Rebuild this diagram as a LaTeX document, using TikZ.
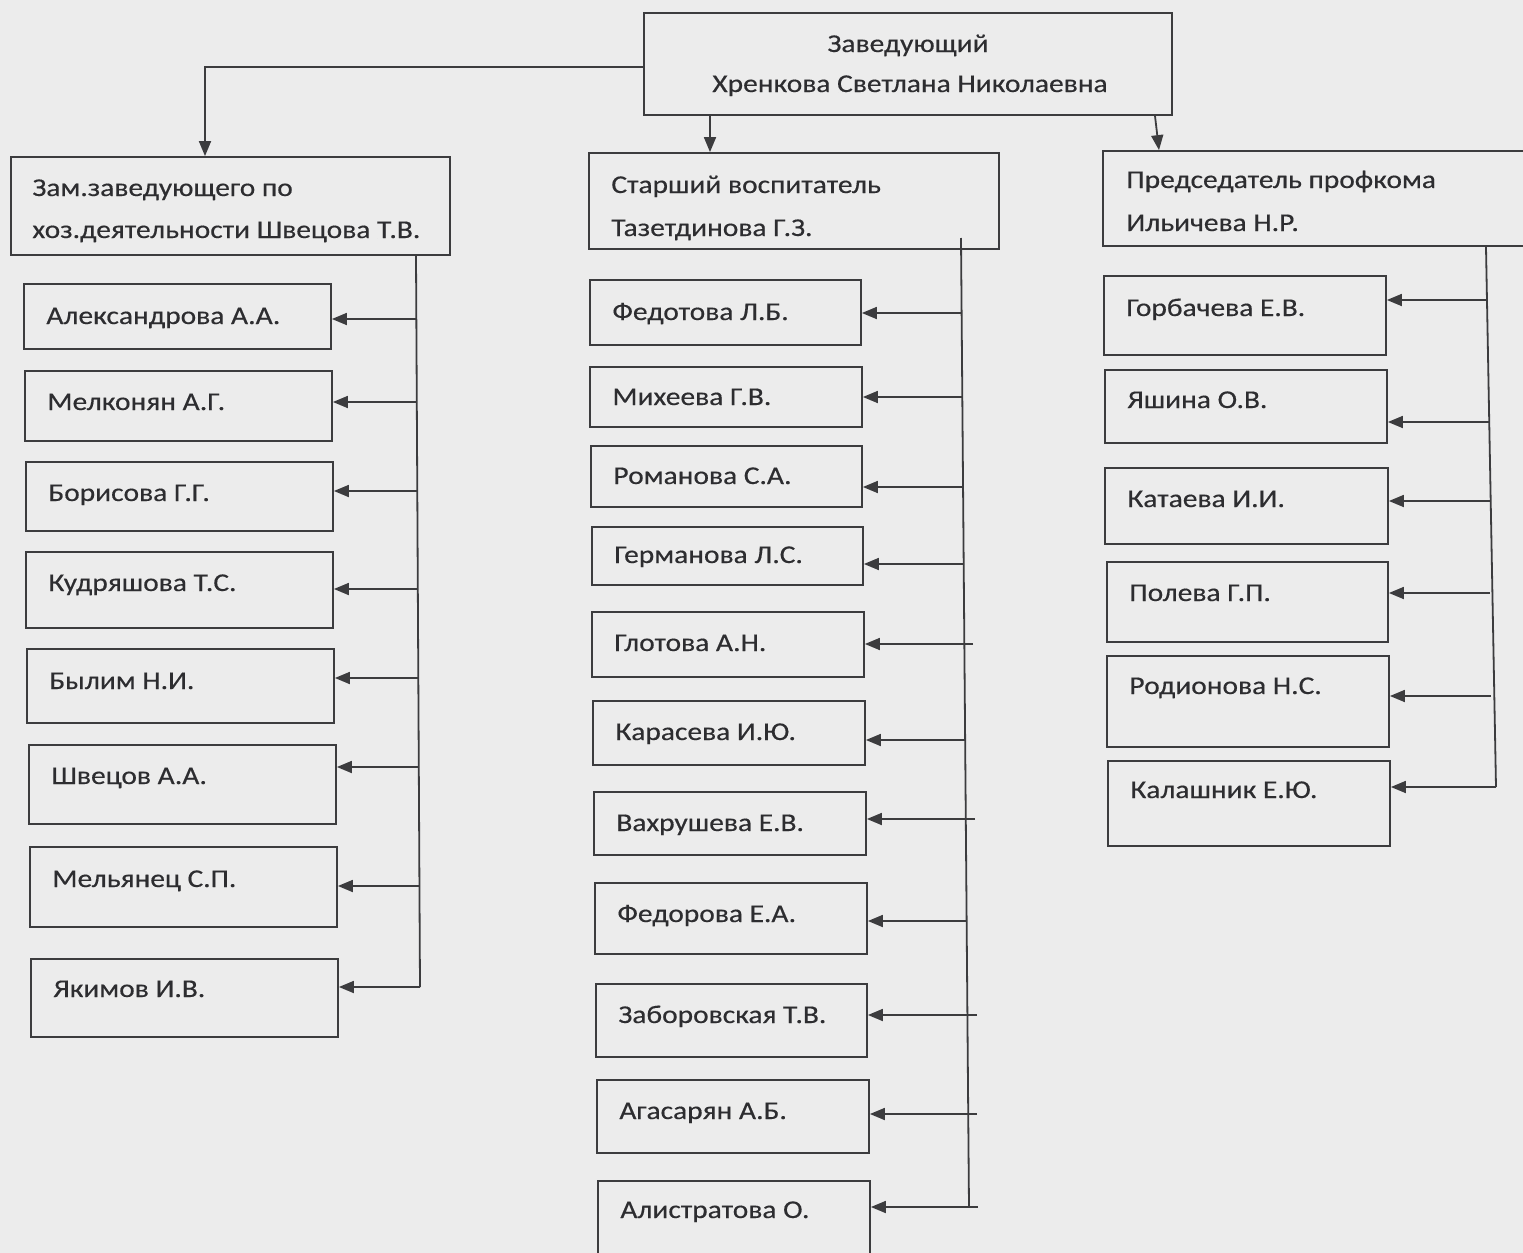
\documentclass[tikz,border=0pt]{standalone}
\usepackage{fontspec}
\setmainfont{Carlito}[FakeStretch=1.15,FakeBold=0.4]
\usetikzlibrary{fit,arrows.meta}
\definecolor{bg}{RGB}{236,236,236}
\definecolor{lc}{RGB}{60,60,62}
\definecolor{tc}{RGB}{45,45,48}
\tikzset{
  box/.style={draw=lc, line width=0.9pt, inner sep=0pt},
  lbl/.style={anchor=base west, inner sep=0pt, text=tc, font=\fontsize{12.8}{15}\selectfont},
  clbl/.style={anchor=base, inner sep=0pt, text=tc, font=\fontsize{12.8}{15}\selectfont},
  conn/.style={draw=lc, line width=0.9pt},
  arr/.style={conn, -{Triangle[length=7.5pt,width=6pt]}},
}
% name, x1, y1, x2, y2, baseline, text
\newcommand\pbox[7]{%
  \node[box, fit={(#2,#3) (#4,#5)}] (#1) {};
  \node[lbl] (#1t) at (#2+22,#6) {#7};
}
% name, arrow y, start x
\newcommand\parr[3]{%
  \draw[arr] (#3,#2) -- (#1.east |- 0,#2);
}
\begin{document}
\begin{tikzpicture}[x=0.5pt,y=-0.5pt]
\fill[bg] (0,0) rectangle (1523,1253);
\useasboundingbox (0,0) rectangle (1523,1253);
\clip (0,0) rectangle (1523,1253);

% top
\node[box, fit={(644,13) (1172,115)}] (T) {};
\node[clbl] (T1) at (908,52) {Заведующий};
\node[clbl] (T2) at (910,92) {Хренкова Светлана Николаевна};

% headers
\node[box, fit={(11,157) (450,255)}] (L) {};
\node[lbl] (L1) at (32,196) {Зам.заведующего по};
\node[lbl] (L2) at (32,238) {хоз.деятельности Швецова Т.В.};

\node[box, fit={(589,153) (999,249)}] (M) {};
\node[lbl] (M1) at (611,193) {Старший воспитатель};
\node[lbl] (M2) at (611,236) {Тазетдинова Г.З.};

\node[box, fit={(1103,151) (1560,246)}] (R) {};
\node[lbl] (R1) at (1126,188) {Председатель профкома};
\node[lbl] (R2) at (1126,231) {Ильичева Н.Р.};

% top connectors
\coordinate (jl) at (205,67);
\draw[arr] (T.west |- jl) -| (L.north -| jl);
\draw[arr] (T.south -| 710,0) -- (M.north -| 710,0);
\draw[arr] (T.south -| 1155,0) -- (R.north -| 1159,0);

% left column
\pbox{a1}{24}{284}{331}{349}{324}{Александрова А.А.}
\pbox{a2}{25}{371}{332}{441}{410}{Мелконян А.Г.}
\pbox{a3}{26}{462}{333}{531}{501}{Борисова Г.Г.}
\pbox{a4}{26}{552}{333}{628}{591}{Кудряшова Т.С.}
\pbox{a5}{27}{649}{334}{723}{689}{Былим Н.И.}
\pbox{a6}{29}{745}{336}{824}{784}{Швецов А.А.}
\pbox{a7}{30}{847}{337}{927}{887}{Мельянец С.П.}
\pbox{a8}{31}{959}{338}{1037}{997}{Якимов И.В.}
\coordinate (Lb) at (420,987);
\draw[conn] (L.south -| 416,0) -- (Lb);
\parr{a1}{319}{416}
\parr{a2}{402}{416}
\parr{a3}{491}{417}
\parr{a4}{589}{418}
\parr{a5}{678}{418}
\parr{a6}{767}{419}
\parr{a7}{886}{419}
\parr{a8}{987}{420}

% middle column
\pbox{b1}{590}{280}{861}{345}{320}{Федотова Л.Б.}
\pbox{b2}{590}{367}{862}{427}{405}{Михеева Г.В.}
\pbox{b3}{591}{446}{862}{507}{484}{Романова С.А.}
\pbox{b4}{592}{527}{863}{585}{563}{Германова Л.С.}
\pbox{b5}{592}{612}{864}{677}{651}{Глотова А.Н.}
\pbox{b6}{593}{701}{865}{765}{740}{Карасева И.Ю.}
\pbox{b7}{594}{792}{866}{855}{831}{Вахрушева Е.В.}
\pbox{b8}{595}{883}{867}{954}{922}{Федорова Е.А.}
\pbox{b9}{596}{984}{867}{1057}{1023}{Заборовская Т.В.}
\pbox{b10}{597}{1080}{869}{1153}{1119}{Агасарян А.Б.}
\pbox{b11}{598}{1181}{870}{1275}{1218}{Алистратова О.}
\coordinate (Mt) at (961,238);
\coordinate (Mb) at (969,1207);
\draw[conn] (Mt) -- (Mb);
\parr{b1}{313}{962}
\parr{b2}{397}{962}
\parr{b3}{487}{963}
\parr{b4}{564}{963}
\parr{b5}{644}{973}
\parr{b6}{740}{965}
\parr{b7}{819}{975}
\parr{b8}{921}{966}
\parr{b9}{1015}{977}
\parr{b10}{1114}{977}
\parr{b11}{1207}{978}

% right column
\pbox{c1}{1104}{276}{1386}{355}{316}{Горбачева Е.В.}
\pbox{c2}{1105}{370}{1387}{443}{408}{Яшина О.В.}
\pbox{c3}{1105}{468}{1388}{544}{507}{Катаева И.И.}
\pbox{c4}{1107}{562}{1388}{642}{601}{Полева Г.П.}
\pbox{c5}{1107}{656}{1389}{747}{694}{Родионова Н.С.}
\pbox{c6}{1108}{761}{1390}{846}{798}{Калашник Е.Ю.}
\coordinate (Rb) at (1496,787);
\draw[conn] (R.south -| 1486,0) -- (Rb);
\parr{c1}{300}{1487}
\parr{c2}{422}{1489}
\parr{c3}{501}{1490}
\parr{c4}{593}{1490}
\parr{c5}{696}{1491}
\parr{c6}{787}{1496}
\end{tikzpicture}
\end{document}
